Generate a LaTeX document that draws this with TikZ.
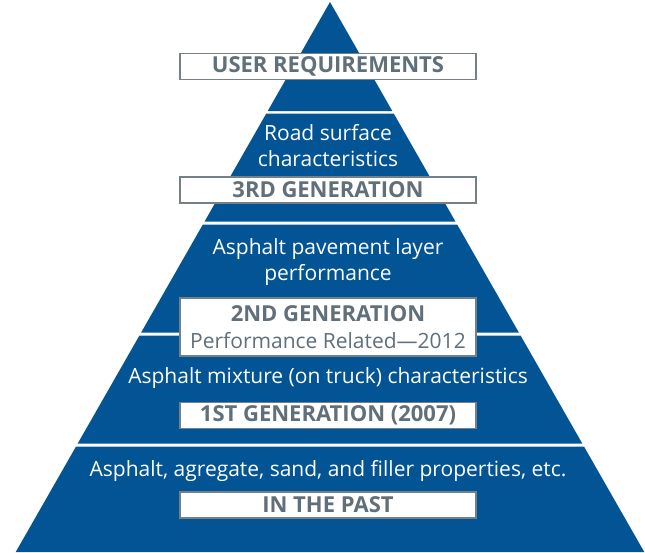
\documentclass[tikz,border=0pt]{standalone}
\usepackage{fontspec}
\setmainfont{Open Sans}
\usepackage{tikz}
\usetikzlibrary{positioning}
\definecolor{pyrblue}{RGB}{2,84,148}
\definecolor{boxgray}{RGB}{96,111,121}
\definecolor{linegray}{RGB}{118,128,135}
\tikzset{
	band/.style={fill=pyrblue},
	genbox/.style={
		draw=linegray, line width=1.3pt, fill=white, align=center,
		minimum width=296pt, minimum height=26pt, inner sep=0pt,
		text=boxgray, font=\fontsize{22}{27}\selectfont\bfseries
	},
	level/.style={
		text=white, align=center, inner sep=0pt,
		font=\fontsize{21}{26}\selectfont
	}
}
\newcommand{\apexx}{330}
\newcommand{\apexy}{2}
\newcommand{\slope}{0.5714}

\begin{document}
\begin{tikzpicture}[x=1pt,y=-1pt]
	\useasboundingbox (0,0) rectangle (645,552);
	% pyramid bands, separated by thin white gaps
	\foreach \t/\b in {2/111, 113.5/221.5, 224.5/332.5, 335.5/443.5, 446.5/552}
		\fill[band]
			({\apexx-\slope*(\t-\apexy)},\t) -- ({\apexx+\slope*(\t-\apexy)},\t)
			-- ({\apexx+\slope*(\b-\apexy)},\b) -- ({\apexx-\slope*(\b-\apexy)},\b) -- cycle;

	\draw
		node[genbox]                     (user) at (328,66.5) {USER REQUIREMENTS}
		node[level]                      (road) at (328,146)  {Road surface\\characteristics}
		node[genbox]                     (gen3) at (328,190)  {3RD GENERATION}
		node[level]                      (layer) at (328,262) {Asphalt pavement layer\\performance}
		node[genbox,minimum height=58pt] (gen2) at (328,327)
			{2ND GENERATION\\{\mdseries\fontsize{21}{27}\selectfont Performance Related—2012}}
		node[level]                      (mix) at (328,378)   {Asphalt mixture (on truck) characteristics}
		node[genbox]                     (gen1) at (328,415.5) {1ST GENERATION (2007)}
		node[level]                      (raw) at (328,471)   {Asphalt, agregate, sand, and filler properties, etc.}
		node[genbox]                     (past) at (328,505)  {IN THE PAST}
	;
\end{tikzpicture}
\end{document}
